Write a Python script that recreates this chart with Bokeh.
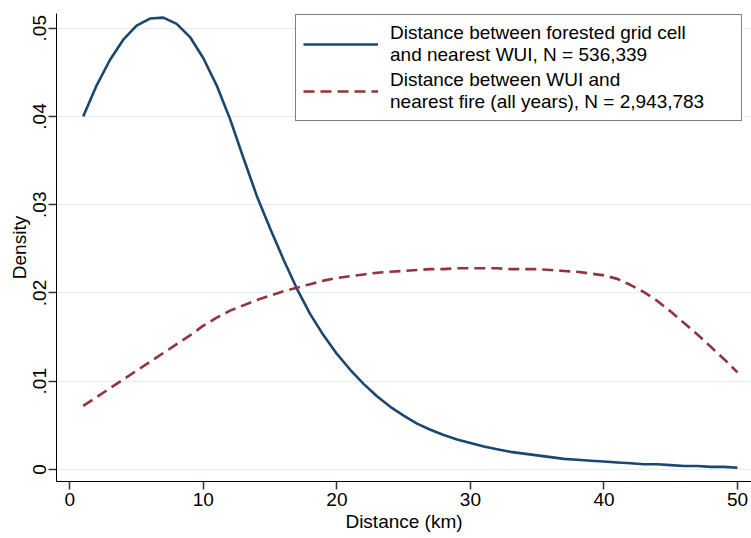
from bokeh.plotting import figure
from bokeh.models import Range1d, FixedTicker, Legend, LegendItem
from bokeh.embed import file_html
from bokeh.resources import INLINE

# ---- data ----
distance_km = list(range(1, 51))
forest_to_wui = [
    0.0400, 0.0435, 0.0464, 0.0487, 0.0503, 0.0511, 0.0512, 0.0505, 0.0490, 0.0466,
    0.0435, 0.0397, 0.0353, 0.0310, 0.0273, 0.0238, 0.0205, 0.0176, 0.0152, 0.0131,
    0.0113, 0.0097, 0.0083, 0.0071, 0.0061, 0.0052, 0.0045, 0.0039, 0.0034, 0.0030,
    0.0026, 0.0023, 0.0020, 0.0018, 0.0016, 0.0014, 0.0012, 0.0011, 0.0010, 0.0009,
    0.0008, 0.0007, 0.0006, 0.0006, 0.0005, 0.0004, 0.0004, 0.0003, 0.0003, 0.0002,
]
wui_to_fire = [
    0.0072, 0.0082, 0.0092, 0.0102, 0.0112, 0.0122, 0.0132, 0.0142, 0.0152, 0.0163,
    0.0172, 0.0180, 0.0186, 0.0192, 0.0197, 0.0202, 0.0206, 0.0210, 0.0214, 0.0217,
    0.0219, 0.0221, 0.0223, 0.0224, 0.0225, 0.0226, 0.0227, 0.0227, 0.0228, 0.0228,
    0.0228, 0.0228, 0.0227, 0.0227, 0.0227, 0.0226, 0.0225, 0.0224, 0.0222, 0.0220,
    0.0216, 0.0209, 0.0201, 0.0191, 0.0179, 0.0166, 0.0153, 0.0139, 0.0125, 0.0110,
]
x_ticks = [0, 10, 20, 30, 40, 50]
y_ticks = [0, 0.01, 0.02, 0.03, 0.04, 0.05]
y_tick_labels = ["0", ".01", ".02", ".03", ".04", ".05"]
label_forest = "Distance between forested grid cell\nand nearest WUI, N = 536,339"
label_fire = "Distance between WUI and\nnearest fire (all years), N = 2,943,783"

FONT = "Liberation Sans"
BLUE = "#1a476f"
RED = "#90353b"

p = figure(width=751, height=538, output_backend="svg", toolbar_location=None,
           x_range=Range1d(-1.0, 51.05), y_range=Range1d(-0.00136, 0.05167),
           min_border_top=13, min_border_right=0, min_border_left=56, min_border_bottom=57)
p.outline_line_color = None
p.background_fill_color = "white"
p.border_fill_color = "white"

r1 = p.line(distance_km, forest_to_wui, line_color=BLUE, line_width=2.6)
r2 = p.line(distance_km, wui_to_fire, line_color=RED, line_width=2.6, line_dash="11 6")

p.xgrid.grid_line_color = None
p.ygrid.grid_line_color = "#e4eef1"
p.ygrid.grid_line_width = 1.2

p.xaxis.ticker = FixedTicker(ticks=x_ticks)
p.yaxis.ticker = FixedTicker(ticks=y_ticks)
p.yaxis.major_label_overrides = dict(zip(y_ticks, y_tick_labels))
p.yaxis.major_label_orientation = "vertical"
p.xaxis.axis_label = "Distance (km)"
p.yaxis.axis_label = "Density"

for ax in (p.xaxis[0], p.yaxis[0]):
    ax.axis_line_color = "black"
    ax.axis_line_width = 1
    ax.major_tick_line_color = "#333333"
    ax.major_tick_line_width = 1.5
    ax.major_tick_out = 8
    ax.major_tick_in = 0
    ax.minor_tick_line_color = None
    ax.major_label_text_font = FONT
    ax.major_label_text_font_size = "19px"
    ax.major_label_text_color = "black"
    ax.major_label_standoff = 3
    ax.axis_label_text_font = FONT
    ax.axis_label_text_font_size = "19px"
    ax.axis_label_text_font_style = "normal"
    ax.axis_label_text_color = "black"
    ax.axis_label_standoff = 2
p.yaxis.major_label_standoff = 2
p.yaxis.axis_label_standoff = 1

legend = Legend(items=[LegendItem(label=label_forest, renderers=[r1]),
                       LegendItem(label=label_fire, renderers=[r2])],
                location=(239, 360))
legend.label_text_font = FONT
legend.label_text_font_size = "19px"
legend.label_text_color = "black"
legend.label_text_line_height = 1.08
legend.glyph_width = 75
legend.label_standoff = 12
legend.label_width = 344
legend.padding = 7
legend.spacing = 3
legend.margin = 0
legend.border_line_color = "black"
legend.border_line_width = 1
legend.background_fill_alpha = 1
p.add_layout(legend)

open("out.html", "w").write(file_html(p, INLINE))
